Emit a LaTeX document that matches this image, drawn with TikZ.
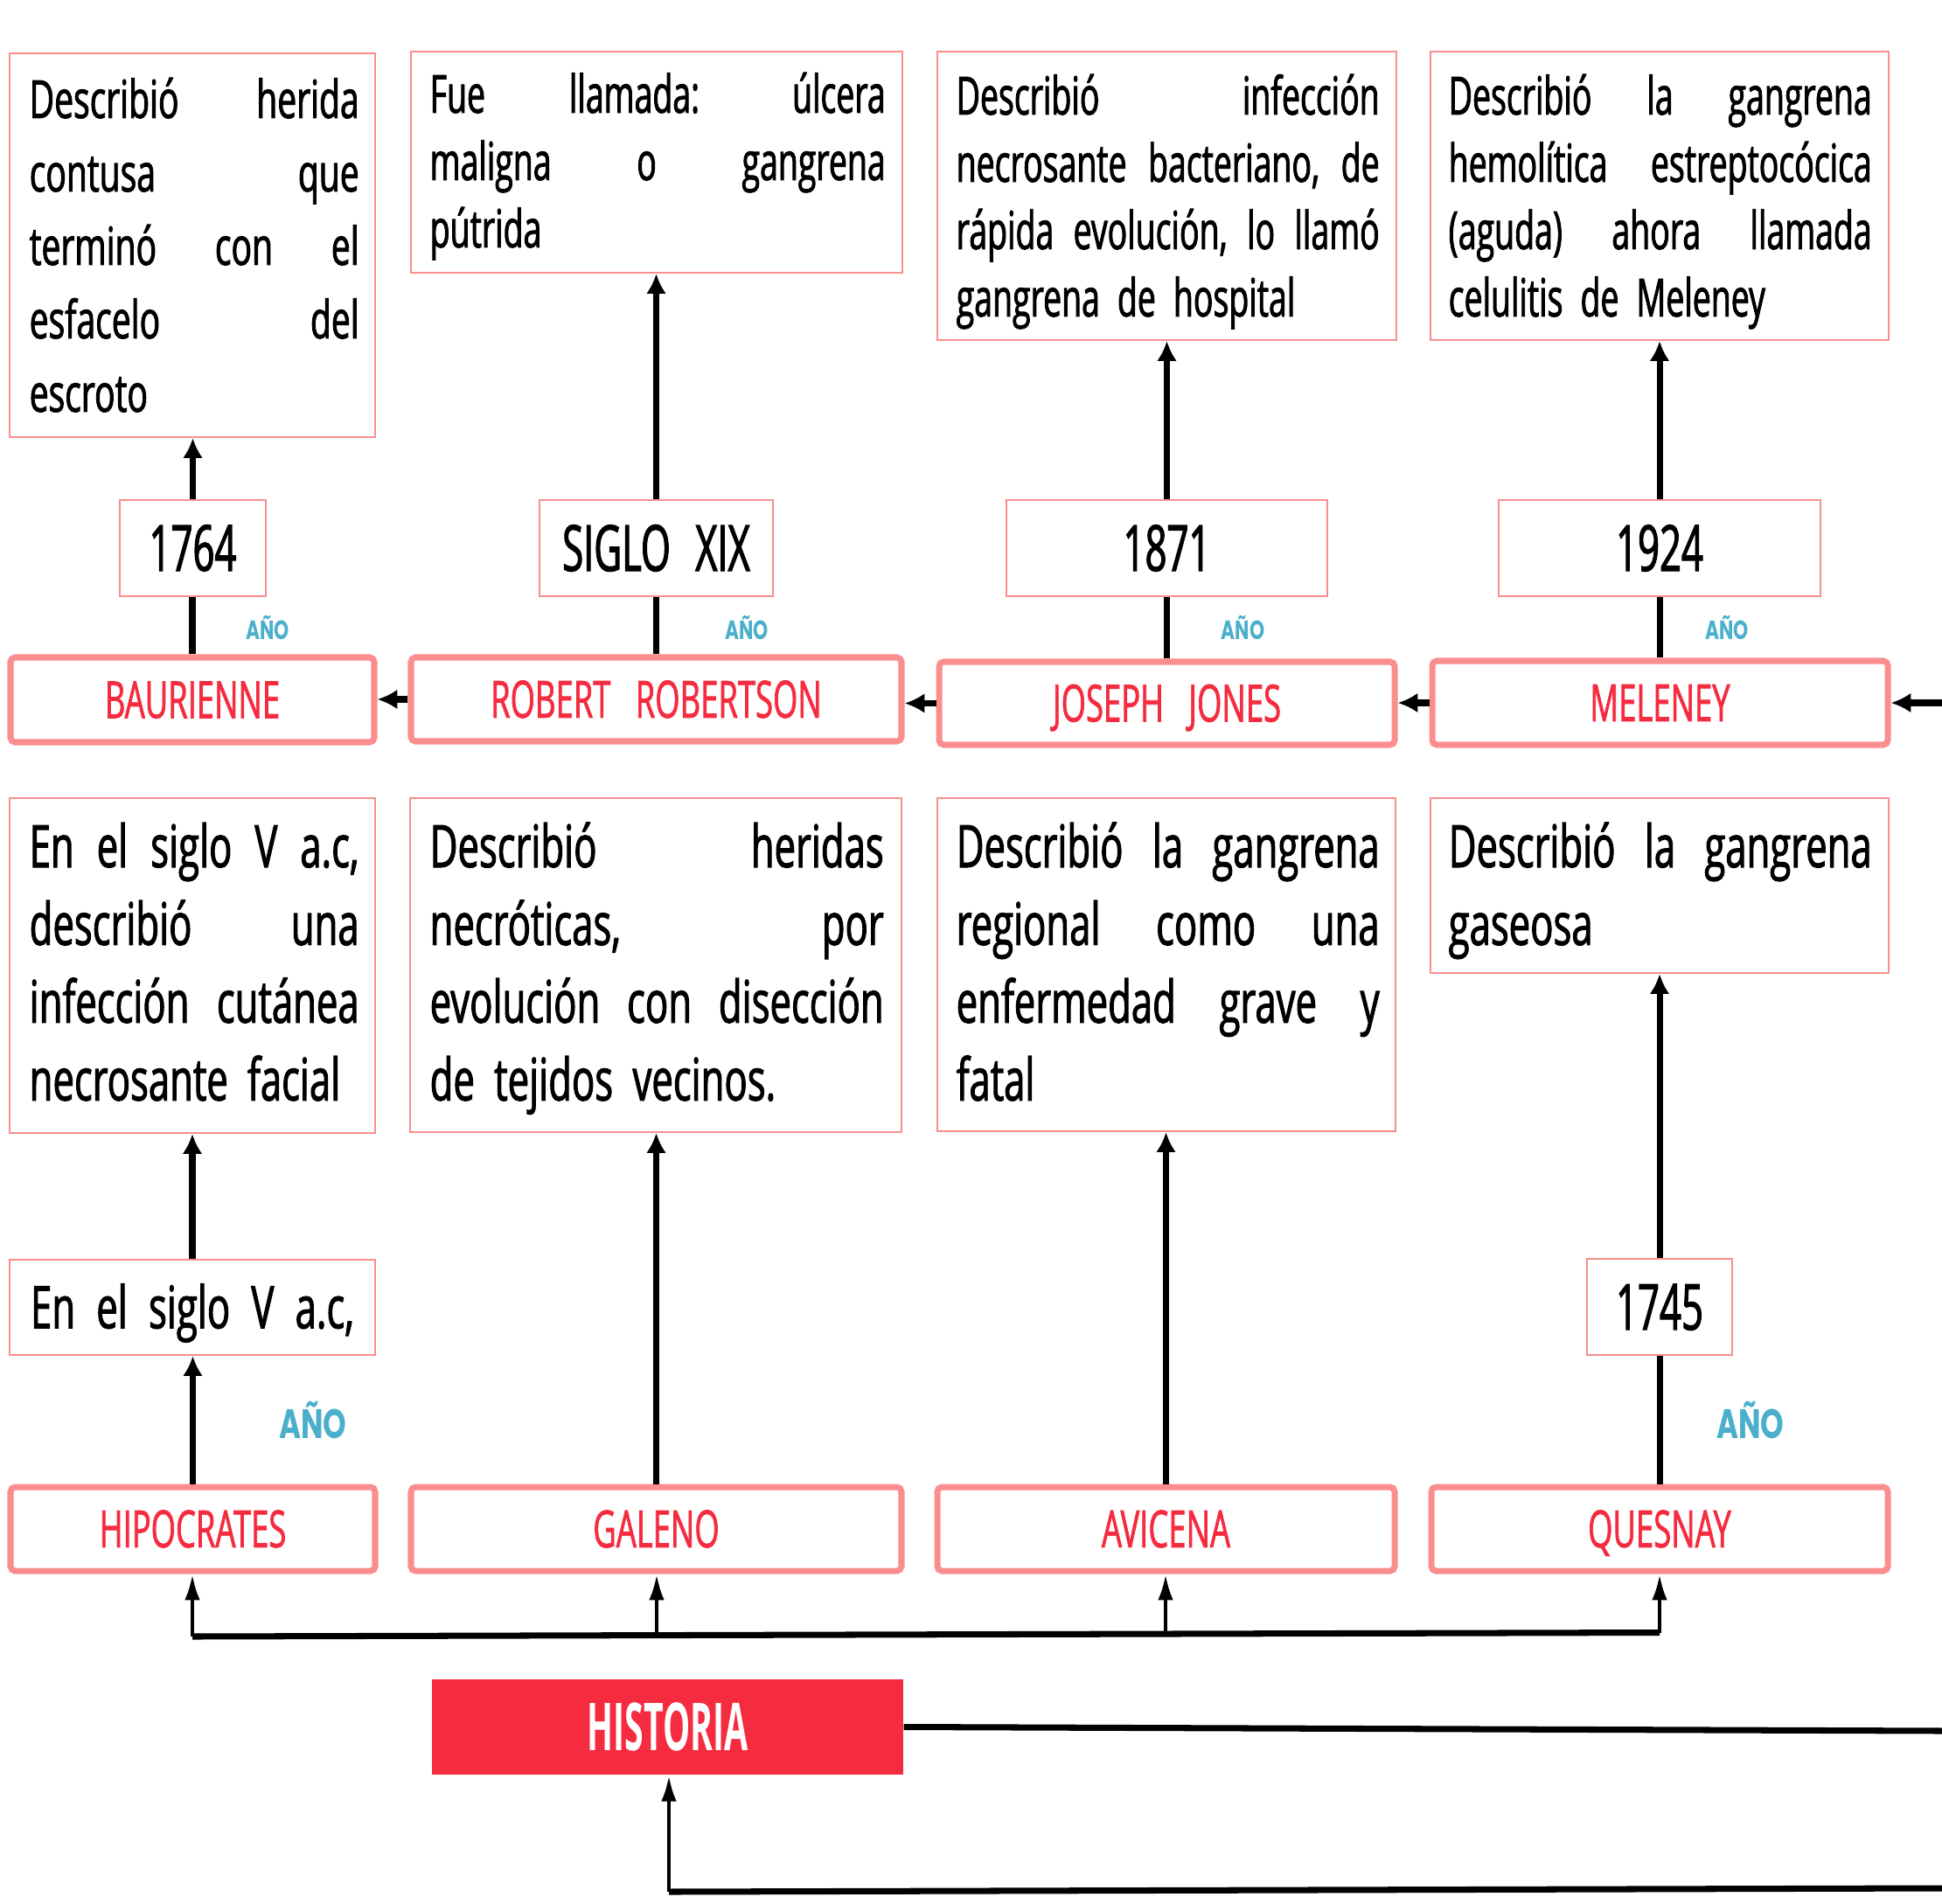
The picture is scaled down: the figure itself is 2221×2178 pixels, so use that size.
\documentclass[tikz,border=0pt]{standalone}
\usepackage{fontspec}
\setmainfont{Open Sans}
\newfontfamily\descfont[FakeStretch=0.65,FakeBold=1.5,WordSpace=1.8]{Open Sans}
\newfontfamily\descfontb[FakeStretch=0.623,FakeBold=1.5,WordSpace=1.9]{Open Sans}
\newfontfamily\namefont[FakeStretch=0.62,FakeBold=1.2,WordSpace=3]{Open Sans}
\newfontfamily\yearfont[FakeStretch=0.6,FakeBold=1.6,WordSpace=2.5]{Open Sans}
\newfontfamily\histfont[FakeStretch=0.52]{Open Sans}
\newfontfamily\anofont[FakeStretch=0.72]{Poppins}
\usetikzlibrary{arrows.meta}
\definecolor{boxpink}{HTML}{FA8E8E}
\definecolor{namered}{HTML}{F52C40}
\definecolor{histred}{HTML}{F52C40}
\definecolor{anoblue}{HTML}{4BAFCB}
\newcommand\jline[1]{\makebox[\hsize][l]{#1}\\}
\begin{document}
\begin{tikzpicture}[x=0.1mm,y=-0.1mm,
  descbox/.style={draw=boxpink, line width=0.6pt, inner sep=0pt},
  desctext/.style={inner sep=0pt, anchor=base west},
  rowone/.style={font=\descfontb\fontsize{17.1}{21.9}\selectfont},
  rowtwo/.style={font=\descfont\fontsize{19.1}{25.3}\selectfont},
  namebox/.style={draw=boxpink, line width=2pt, rounded corners=1.5pt, inner sep=0pt,
     text=namered, font=\namefont\fontsize{16.7}{20}\selectfont, text height=11.9pt, text depth=0pt},
  yearbox/.style={draw=boxpink, line width=0.6pt, inner sep=0pt,
     font=\yearfont\fontsize{20.7}{25}\selectfont, text height=14.8pt, text depth=0pt},
  ano/.style={text=anoblue, inner sep=0pt, font=\anofont\bfseries\fontsize{8.6}{10}\selectfont},
  anobig/.style={text=anoblue, inner sep=0pt, font=\anofont\bfseries\fontsize{13.4}{15}\selectfont},
  plain/.style={line width=2pt},
  arr/.style={line width=2pt, -{Latex[length=6.5pt,width=6.5pt]}},
  busarr/.style={line width=1.3pt, -{Latex[length=8.5pt,width=5pt]}}
]
\useasboundingbox (0,0) rectangle (2221,2178);

% ---------- row 1 description boxes
\node[descbox, minimum width=41.8mm, minimum height=43.9mm] (D1) at (220,280.5) {};
\node[descbox, minimum width=56.2mm, minimum height=25.3mm] (D2) at (751,185.5) {};
\node[descbox, minimum width=52.5mm, minimum height=33mm] (D3) at (1334.5,224) {};
\node[descbox, minimum width=52.4mm, minimum height=33mm] (D4) at (1898,224) {};

\node[desctext, text width=37.7mm, font=\descfont\fontsize{17.1}{23.9}\selectfont] (T1) at (33,135)
  {\jline{Describió \hfill herida}\jline{contusa \hfill que}\jline{terminó \hfill con \hfill el}\jline{esfacelo \hfill del}escroto};
\node[desctext, rowone, text width=52.1mm] (T2) at (491,129)
  {\jline{Fue \hfill llamada: \hfill úlcera}\jline{maligna \hfill o \hfill gangrena}pútrida};
\node[desctext, rowone, text width=48.4mm] (T3) at (1093,131)
  {\jline{Describió \hfill infección}\jline{necrosante \hfill bacteriano, \hfill de}\jline{rápida \hfill evolución, \hfill lo \hfill llamó}gangrena de hospital};
\node[desctext, rowone, text width=48.4mm] (T4) at (1656,131)
  {\jline{Describió \hfill la \hfill gangrena}\jline{hemolítica \hfill estreptocócica}\jline{(aguda) \hfill ahora \hfill llamada}celulitis de Meleney};

% ---------- row 1 year boxes
\node[yearbox, minimum width=16.7mm, minimum height=11mm] (Y1) at (220.5,627) {1764};
\node[yearbox, minimum width=26.7mm, minimum height=11mm] (Y2) at (750.5,627) {SIGLO XIX};
\node[yearbox, minimum width=36.7mm, minimum height=11mm] (Y3) at (1334.5,627) {1871};
\node[yearbox, minimum width=36.8mm, minimum height=11mm] (Y4) at (1898,627) {1924};

% ---------- row 1 name boxes
\node[namebox, minimum width=41.6mm, minimum height=9.7mm] (N1) at (220,800.5) {BAURIENNE};
\node[namebox, minimum width=56.1mm, minimum height=9.6mm] (N2) at (750.5,800) {ROBERT ROBERTSON};
\node[namebox, minimum width=52.1mm, minimum height=9.5mm] (N3) at (1334.5,804.5) {JOSEPH JONES};
\node[namebox, minimum width=52.1mm, minimum height=9.6mm] (N4) at (1898.5,804) {MELENEY};

\node[ano] (A1) at (306,718) {AÑO};
\node[ano] (A2) at (854,718) {AÑO};
\node[ano] (A3) at (1421.5,718) {AÑO};
\node[ano] (A4) at (1975,718) {AÑO};

% ---------- row 2 description boxes
\node[descbox, minimum width=41.8mm, minimum height=38.3mm] (D5) at (220,1104.5) {};
\node[descbox, minimum width=56.2mm, minimum height=38.2mm] (D6) at (750,1104) {};
\node[descbox, minimum width=52.4mm, minimum height=38.1mm] (D7) at (1334,1103.5) {};
\node[descbox, minimum width=52.4mm, minimum height=20mm] (D8) at (1898,1013) {};

\node[desctext, rowtwo, text width=37.7mm] (T5) at (33,992)
  {\jline{En \hfill el \hfill siglo \hfill V \hfill a.c,}\jline{describió \hfill una}\jline{infección \hfill cutánea}necrosante facial};
\node[desctext, rowtwo, text width=51.9mm] (T6) at (491,992)
  {\jline{Describió \hfill heridas}\jline{necróticas, \hfill por}\jline{evolución \hfill con \hfill disección}de tejidos vecinos.};
\node[desctext, rowtwo, text width=48.4mm] (T7) at (1093,992)
  {\jline{Describió \hfill la \hfill gangrena}\jline{regional \hfill como \hfill una}\jline{enfermedad \hfill grave \hfill y}fatal};
\node[desctext, rowtwo, text width=48.4mm] (T8) at (1656,992)
  {\jline{Describió \hfill la \hfill gangrena}gaseosa};

% ---------- row 2 year boxes
\node[yearbox, font=\descfont\fontsize{19.1}{24}\selectfont, text height=13.6pt,
      minimum width=41.8mm, minimum height=10.9mm] (Y5) at (220,1495.5)
      {\makebox[37mm][l]{En \hfill el \hfill siglo \hfill V \hfill a.c,}};
\node[yearbox, minimum width=16.6mm, minimum height=11mm] (Y6) at (1898,1495) {1745};

% ---------- row 2 name boxes
\node[namebox, minimum width=41.7mm, minimum height=9.6mm] (N5) at (220.5,1749) {HIPOCRATES};
\node[namebox, minimum width=56.1mm, minimum height=9.6mm] (N6) at (750.5,1749) {GALENO};
\node[namebox, minimum width=52.3mm, minimum height=9.6mm] (N7) at (1333.5,1749) {AVICENA};
\node[namebox, minimum width=52.2mm, minimum height=9.6mm] (N8) at (1898,1749) {QUESNAY};

\node[anobig] (A5) at (358,1624) {AÑO};
\node[anobig] (A6) at (2002,1624) {AÑO};

% ---------- HISTORIA
\node[fill=histred, minimum width=53.9mm, minimum height=10.9mm, inner sep=0pt, text=white,
      font=\histfont\bfseries\fontsize{21.5}{25}\selectfont, text height=15.4pt, text depth=0pt]
      (HIST) at (763.5,1975.5) {HISTORIA};

% ---------- connectors row 1
\foreach \n/\y in {N1/Y1,N2/Y2,N3/Y3,N4/Y4}
  \draw[plain] (\n.north) -- (\n.north |- \y.south);
\foreach \y/\d in {Y1/D1,Y2/D2,Y3/D3,Y4/D4}
  \draw[arr] (\y.north) -- (\y.north |- \d.south);
\draw[arr] (N2.west) -- (N2.west -| N1.east);
\draw[arr] (N3.west) -- (N3.west -| N2.east);
\draw[arr] (N4.west) -- (N4.west -| N3.east);
\coordinate (eM) at (2221,804);
\draw[arr] (eM) -- (N4.east);

% ---------- connectors row 2
\draw[arr] (N5.north) -- (N5.north |- Y5.south);
\draw[arr] (Y5.north) -- (Y5.north |- D5.south);
\draw[arr] (N6.north) -- (N6.north |- D6.south);
\draw[arr] (N7.north) -- (N7.north |- D7.south);
\draw[plain] (N8.north) -- (N8.north |- Y6.south);
\draw[arr] (Y6.north) -- (Y6.north |- D8.south);

% ---------- bus
\coordinate (b1) at (220,1872);
\coordinate (b2) at (751,1870.5);
\coordinate (b3) at (1333,1869);
\coordinate (b4) at (1898,1867.5);
\draw[plain] (b1) -- (b4);
\draw[busarr] (b1) -- (b1 |- N5.south);
\draw[busarr] (b2) -- (b2 |- N6.south);
\draw[busarr] (b3) -- (b3 |- N7.south);
\draw[busarr] (b4) -- (b4 |- N8.south);

% ---------- HISTORIA links
\coordinate (eH) at (2221,1980);
\draw[plain] (HIST.east) -- (eH);
\coordinate (eB) at (2221,2160);
\coordinate (cB) at (765,2164);
\draw[plain] (eB) -- (cB);
\draw[busarr] (cB) -- (cB |- HIST.south);
\end{tikzpicture}
\end{document}
